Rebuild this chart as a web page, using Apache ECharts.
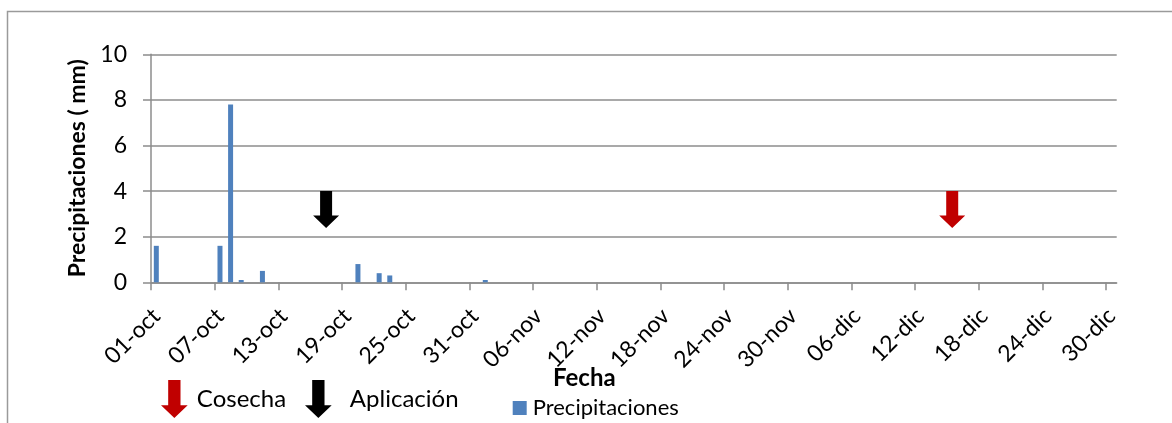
<!DOCTYPE html>
<html>
<head>
<meta charset="utf-8">
<script src="https://cdn.jsdelivr.net/npm/echarts@6/dist/echarts.min.js"></script>
<style>
html,body{margin:0;padding:0;background:#fff;}
#chart{width:1172px;height:423px;}
</style>
</head>
<body>
<div id="chart"></div>
<script>
// ---- data ----
const tickLabels = ['01-oct','07-oct','13-oct','19-oct','25-oct','31-oct','06-nov','12-nov','18-nov','24-nov','30-nov','06-dic','12-dic','18-dic','24-dic','30-dic'];
const rainDates = ['01-oct','07-oct','08-oct','09-oct','11-oct','20-oct','22-oct','23-oct','01-nov'];
const rainMm = [1.6, 1.6, 7.8, 0.1, 0.5, 0.8, 0.4, 0.3, 0.1];
const aplicacionDate = ['17-oct'];
const cosechaDate = ['15-dic'];
const arrowTopMm = 4;
const seasonDays = 91;
const yTicks = [0, 2, 4, 6, 8, 10];

// ---- helpers ----
const monthStart = {oct: 0, nov: 31, dic: 61};
function dayIndex(s){ const p = s.split('-'); return monthStart[p[1]] + parseInt(p[0], 10) - 1; }
const ARROW = 'path://M7,0 L19,0 L19,24.5 L26,24.5 L13,37 L0,24.5 L7,24.5 Z';
const FONT = 'Lato';
const GRAY = '#8c8c8c';

const tickIdx = tickLabels.map(dayIndex);
const barData = rainDates.map((d, i) => [dayIndex(d) + 0.5, rainMm[i]]);

const chart = echarts.init(document.getElementById('chart'), null, {renderer: 'canvas'});
chart.setOption({
  animation: false,
  backgroundColor: '#fff',
  textStyle: {fontFamily: FONT},
  graphic: [{
    type: 'rect', shape: {x: 7.5, y: 11.5, width: 1300, height: 600},
    style: {fill: 'none', stroke: '#9a9a9a', lineWidth: 1.5}, silent: true, z: -1
  }],
  title: {
    text: 'Fecha', left: 553, top: 366, padding: 0,
    textStyle: {fontFamily: FONT, fontSize: 24, fontWeight: 'bold', color: '#000'}
  },
  grid: {left: 151, right: 55.3, top: 54.3, bottom: 140.7, containLabel: false},
  legend: [
    {left: 161, top: 380, padding: 0, itemWidth: 27, itemHeight: 38, itemGap: 0,
     data: [{name: 'Cosecha', icon: ARROW}], itemStyle: {opacity: 1},
     textStyle: {fontFamily: FONT, fontSize: 24, color: '#000', padding: [0,0,0,4]}},
    {left: 305, top: 380, padding: 0, itemWidth: 27, itemHeight: 38, itemGap: 0,
     data: [{name: 'Aplicación', icon: ARROW}], itemStyle: {opacity: 1},
     textStyle: {fontFamily: FONT, fontSize: 24, color: '#000', padding: [6,0,0,13]}},
    {left: 512.7, top: 397, padding: 0, itemWidth: 14, itemHeight: 14, itemGap: 0,
     data: [{name: 'Precipitaciones', icon: 'rect'}],
     textStyle: {fontFamily: FONT, fontSize: 22, color: '#000', padding: [0,0,0,1]}}
  ],
  xAxis: {
    type: 'value', min: 0, max: seasonDays,
    axisLine: {show: true, lineStyle: {color: GRAY, width: 1.5}},
    axisTick: {show: true, length: 8, customValues: tickIdx, lineStyle: {color: GRAY, width: 1.5}},
    axisLabel: {
      customValues: tickIdx.map(v => v + 0.5),
      formatter: v => tickLabels[Math.floor(v / 6)] || '',
      rotate: 45, margin: 30, fontFamily: FONT, fontSize: 23, color: '#000'
    },
    splitLine: {show: false}
  },
  yAxis: {
    type: 'value', min: yTicks[0], max: yTicks[yTicks.length - 1], interval: 2,
    name: 'Precipitaciones ( mm)', nameLocation: 'middle', nameGap: 61, nameRotate: 90,
    nameTextStyle: {fontFamily: FONT, fontSize: 23, fontWeight: 'bold', color: '#000'},
    axisLine: {show: true, lineStyle: {color: GRAY, width: 1.5}},
    axisTick: {show: true, length: 8, lineStyle: {color: GRAY, width: 1.5}},
    axisLabel: {margin: 24, fontFamily: FONT, fontSize: 23, color: '#000'},
    splitLine: {show: true, lineStyle: {color: GRAY, width: 1.5}}
  },
  series: [
    {name: 'Precipitaciones', type: 'bar', data: barData, barWidth: 5,
     itemStyle: {color: '#4F81BD'}},
    {name: 'Aplicación', type: 'scatter', symbol: ARROW, symbolSize: [26, 37],
     symbolOffset: [0, '50%'], itemStyle: {color: '#000', opacity: 1}, z: 5,
     data: aplicacionDate.map(d => [dayIndex(d) + 0.5, arrowTopMm])},
    {name: 'Cosecha', type: 'scatter', symbol: ARROW, symbolSize: [26, 37],
     symbolOffset: [0, '50%'], itemStyle: {color: '#C00000', opacity: 1}, z: 5,
     data: cosechaDate.map(d => [dayIndex(d) + 0.5, arrowTopMm])}
  ]
});
</script>
</body>
</html>
